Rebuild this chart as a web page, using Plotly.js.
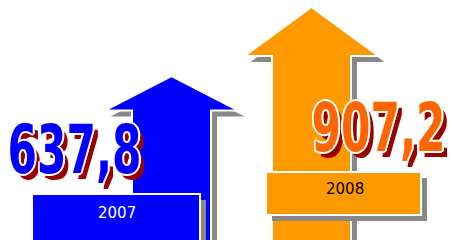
<!DOCTYPE html>
<html>
<head>
<meta charset="utf-8">
<script src="https://cdn.plot.ly/plotly-3.0.1.min.js"></script>
<style>
html,body{margin:0;padding:0;background:#fff;}
#chart{width:452px;height:240px;}
</style>
</head>
<body>
<div id="chart"></div>
<script>
// ---- data ----
const years = ['2007', '2008'];
const values = [637.8, 907.2];
const valueLabels = ['637,8', '907,2'];

// ---- style ----
const arrowColors = ['#0000FF', '#FF9900'];
const numberColors = ['#0000FF', '#FF6600'];
const yearTextColors = ['#FFFFFF', '#000000'];
const shadowColor = '#888888';
const W = 452, H = 240;
const centers = [171.5, 311.5];
const shaftHalf = 39.5, headHalf = 67, headFrac = 0.79;
const topPx = 7;
const k = (H - topPx) / Math.max(...values); // px per unit
const yMax = H / k;
const pxY = p => p / k;
const sh = 6;

function arrow(i, dx, dy) {
  const cx = centers[i] + dx, v = values[i], b = v * headFrac;
  const y0 = -pxY(10);
  return {
    x: [cx - shaftHalf, cx - shaftHalf, cx - headHalf, cx, cx + headHalf, cx + shaftHalf, cx + shaftHalf, cx - shaftHalf],
    y: [y0, b, b, v, b, b, y0, y0].map(y => y + dy)
  };
}

const traces = [];
values.forEach((v, i) => {
  const s = arrow(i, sh, -pxY(sh));
  traces.push({x: s.x, y: s.y, type: 'scatter', mode: 'lines', fill: 'toself',
    fillcolor: shadowColor, line: {width: 0, color: shadowColor}, hoverinfo: 'skip'});
  const a = arrow(i, 0, 0);
  traces.push({x: a.x, y: a.y, type: 'scatter', mode: 'lines', fill: 'toself',
    fillcolor: arrowColors[i], line: {width: 2, color: '#FFFFFF'}, hoverinfo: 'skip'});
});

// label boxes (pixel positions from top)
const boxes = [
  {x0: 32, x1: 200, t: 194, b: 246, ty: 213},
  {x0: 266, x1: 421, t: 172, b: 215, ty: 189}
];
const py = p => 1 - p / H;
const shapes = [];
boxes.forEach((bx, i) => {
  shapes.push({type: 'rect', xref: 'x', yref: 'paper', x0: bx.x0 + sh, x1: bx.x1 + sh,
    y0: py(bx.b + sh), y1: py(bx.t + sh), fillcolor: shadowColor, line: {width: 0}, layer: 'above'});
  shapes.push({type: 'rect', xref: 'x', yref: 'paper', x0: bx.x0, x1: bx.x1,
    y0: py(bx.b), y1: py(bx.t), fillcolor: arrowColors[i], line: {width: 2, color: '#FFFFFF'}, layer: 'above'});
});

const numPos = [{x: 74, y: 149}, {x: 378, y: 127}];
const numWidth = 134;
const annotations = [];
years.forEach((yr, i) => {
  const bx = boxes[i];
  annotations.push({text: yr, xref: 'x', yref: 'paper', x: (bx.x0 + bx.x1) / 2 + 1, y: py(bx.ty),
    showarrow: false, xanchor: 'center', yanchor: 'middle',
    font: {family: 'DejaVu Sans, Verdana, sans-serif', size: 15, color: yearTextColors[i]}});
  annotations.push({text: valueLabels[i], xref: 'x', yref: 'paper', x: numPos[i].x, y: py(numPos[i].y),
    showarrow: false, xanchor: 'center', yanchor: 'middle',
    font: {family: '"DejaVu Sans", sans-serif', size: 68, weight: 700,
      color: numberColors[i],
      shadow: '-2px -1px 0 #fff, 2px -1px 0 #fff, -2px 1px 0 #fff, 2px 1px 0 #fff, 0 -1.5px 0 #fff, 0 1.5px 0 #fff, -2.5px 0 0 #fff, 2.5px 0 0 #fff, 7px 5px 0 #990000'}});
});

const layout = {
  width: W, height: H,
  margin: {l: 0, r: 0, t: 0, b: 0},
  paper_bgcolor: '#FFFFFF', plot_bgcolor: '#FFFFFF',
  showlegend: false,
  xaxis: {range: [0, W], visible: false, fixedrange: true},
  yaxis: {range: [0, yMax], visible: false, fixedrange: true},
  shapes: shapes,
  annotations: annotations
};
Plotly.newPlot('chart', traces, layout, {staticPlot: true, displayModeBar: false}).then(gd => {
  // condense the big value labels horizontally (narrow display face)
  gd.querySelectorAll('text.annotation-text').forEach(t => {
    if (parseFloat(t.style.fontSize) >= 40) {
      const bb = t.getBBox();
      const s = numWidth / bb.width;
      const cx = bb.x + bb.width / 2;
      t.setAttribute('transform', `translate(${cx},0) scale(${s},1) translate(${-cx},0)`);
    }
  });
});
</script>
</body>
</html>
